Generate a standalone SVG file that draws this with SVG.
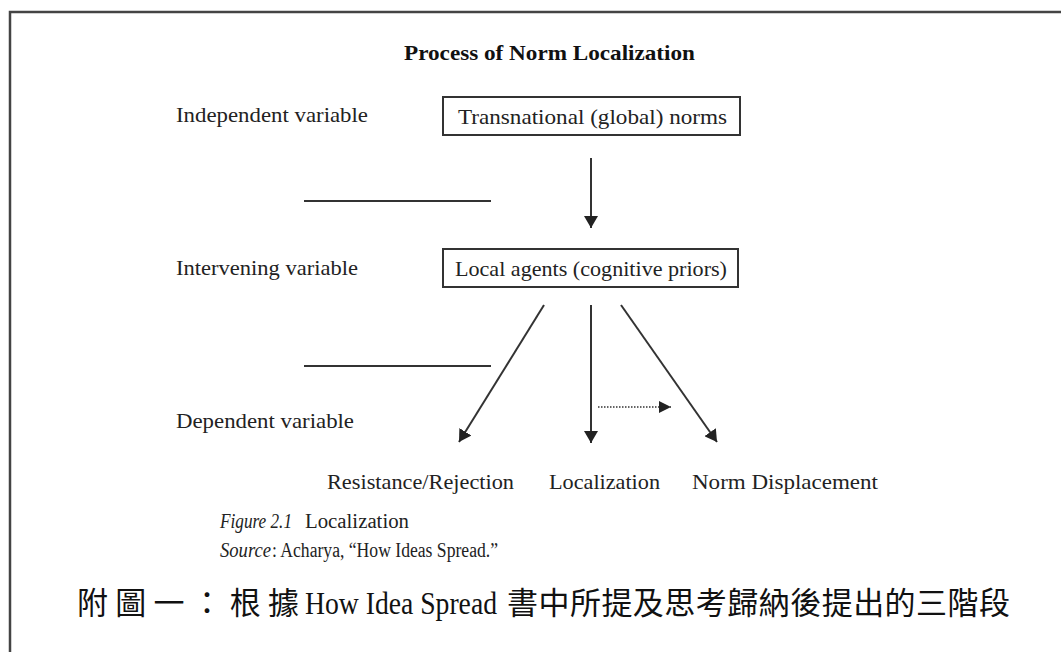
<svg xmlns="http://www.w3.org/2000/svg" width="1061" height="652" viewBox="0 0 1061 652">
<style>
.t{font-family:"Liberation Serif","Times New Roman",serif;font-size:22px;fill:#222}
.c{font-family:"Liberation Serif","Times New Roman",serif;font-size:20px;fill:#222}
.title{font-family:"Liberation Serif","Times New Roman",serif;font-size:21px;font-weight:bold;fill:#111}
.box{fill:#fff;stroke:#333;stroke-width:2}
.ln{stroke:#333;stroke-width:2;fill:none}
.frame{stroke:#444;stroke-width:2.5;fill:none}
.cjk{font-family:"Liberation Serif","Noto Sans CJK TC",serif;font-size:31px;fill:#111}
</style>
<defs>
<marker id="ah" viewBox="0 0 12 14" refX="12" refY="7" markerWidth="12" markerHeight="14" markerUnits="userSpaceOnUse" orient="auto">
<path d="M0,0 L12,7 L0,14 Z" fill="#222"/>
</marker>
<marker id="ahs" viewBox="0 0 12 12" refX="12" refY="6" markerWidth="12" markerHeight="12" markerUnits="userSpaceOnUse" orient="auto">
<path d="M0,0 L12,6 L0,12 Z" fill="#222"/>
</marker>
</defs>
<rect width="1061" height="652" fill="#fff"/>
<path class="frame" d="M10,652 V12 H1061"/>
<text class="title" x="404" y="60" textLength="291" lengthAdjust="spacingAndGlyphs">Process of Norm Localization</text>
<g id="labels">
<text class="t" x="176" y="122" textLength="192" lengthAdjust="spacingAndGlyphs">Independent variable</text>
<text class="t" x="176" y="275" textLength="182" lengthAdjust="spacingAndGlyphs">Intervening variable</text>
<text class="t" x="176" y="428" textLength="178" lengthAdjust="spacingAndGlyphs">Dependent variable</text>
</g>
<g id="n-transnational">
<rect class="box" x="443" y="97" width="297" height="38"/>
<text class="t" x="458" y="124" textLength="269" lengthAdjust="spacingAndGlyphs">Transnational (global) norms</text>
</g>
<g id="n-local">
<rect class="box" x="443" y="249" width="295" height="38"/>
<text class="t" x="455" y="276" textLength="272" lengthAdjust="spacingAndGlyphs">Local agents (cognitive priors)</text>
</g>
<g id="n-resistance"><text class="t" x="327" y="489" textLength="187" lengthAdjust="spacingAndGlyphs">Resistance/Rejection</text></g>
<g id="n-localization"><text class="t" x="549" y="489" textLength="111" lengthAdjust="spacingAndGlyphs">Localization</text></g>
<g id="n-displacement"><text class="t" x="692" y="489" textLength="186" lengthAdjust="spacingAndGlyphs">Norm Displacement</text></g>
<g id="connectors">
<line class="ln" x1="304" y1="201" x2="491" y2="201"/>
<line class="ln" x1="304" y1="366" x2="491" y2="366"/>
<line class="ln" x1="591" y1="158" x2="591" y2="228" marker-end="url(#ah)"/>
<line class="ln" x1="544" y1="305" x2="459" y2="442" marker-end="url(#ah)"/>
<line class="ln" x1="591" y1="305" x2="591" y2="443" marker-end="url(#ah)"/>
<line class="ln" x1="621" y1="305" x2="717" y2="442" marker-end="url(#ah)"/>
<line x1="598" y1="407" x2="671" y2="407" stroke="#333" stroke-width="1.5" stroke-dasharray="1.5,1.5" marker-end="url(#ahs)"/>
</g>
<g id="caption">
<text class="c" x="220" y="528" font-style="italic" textLength="72" lengthAdjust="spacingAndGlyphs">Figure 2.1</text>
<text class="c" x="305" y="528" textLength="104" lengthAdjust="spacingAndGlyphs">Localization</text>
<text class="c" x="220" y="557" font-style="italic" textLength="51" lengthAdjust="spacingAndGlyphs">Source</text>
<text class="c" x="272" y="557" textLength="226" lengthAdjust="spacingAndGlyphs">: Acharya, “How Ideas Spread.”</text>
<text class="cjk" y="614"><tspan x="77" textLength="222">附圖一：根據</tspan><tspan x="305" textLength="192" lengthAdjust="spacingAndGlyphs">How Idea Spread</tspan><tspan x="507" textLength="503">書中所提及思考歸納後提出的三階段</tspan></text>
</g>
</svg>
